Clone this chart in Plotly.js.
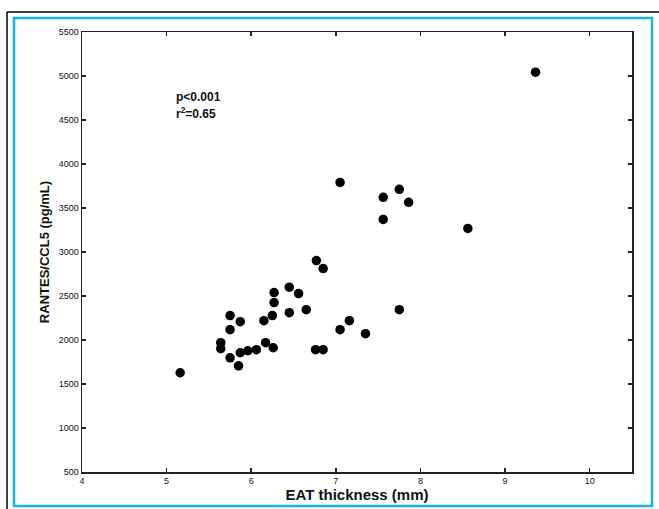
<!DOCTYPE html>
<html>
<head>
<meta charset="utf-8">
<script src="https://cdn.plot.ly/plotly-3.0.1.min.js"></script>
<style>
html,body{margin:0;padding:0;background:#fff;}
#chart{width:659px;height:509px;}
</style>
</head>
<body>
<div id="chart"></div>
<script>
// EAT thickness (mm)
const eatThickness = [
  5.16, 9.36, 8.56, 7.05, 7.56, 7.75, 7.86, 7.56, 7.75, 7.35,
  7.16, 7.05, 6.77, 6.85, 6.76, 6.85, 6.65, 6.45, 6.56, 6.45,
  6.27, 6.27, 6.25, 6.15, 5.75, 5.87, 5.75, 5.64, 5.64, 5.75,
  5.85, 5.87, 5.96, 6.06, 6.17, 6.26
];
// RANTES/CCL5 (pg/mL)
const rantes = [
  1628, 5044, 3268, 3791, 3621, 3712, 3564, 3370, 2345, 2072,
  2220, 2117, 2903, 2812, 1890, 1890, 2345, 2600, 2527, 2311,
  2539, 2425, 2277, 2220, 2277, 2208, 2117, 1969, 1901, 1798,
  1707, 1855, 1878, 1890, 1969, 1912
];
const xTicks = [4, 5, 6, 7, 8, 9, 10];
const yTicks = [500, 1000, 1500, 2000, 2500, 3000, 3500, 4000, 4500, 5000, 5500];
const statLines = ["p<0.001", "r<sup>2</sup>=0.65"];

// pixel helpers for frame shapes (paper coords)
const L = 82, T = 32, W = 550, H = 440;
const px = v => (v - L) / W;
const py = v => (T + H - v) / H;

const FONT = 'Liberation Sans, Arial, sans-serif';

const trace = {
  x: eatThickness, y: rantes, type: 'scatter', mode: 'markers',
  marker: {color: '#000', size: 9.5, symbol: 'circle'},
  hoverinfo: 'x+y'
};

const axisCommon = {
  showgrid: false, zeroline: false, showline: true, linecolor: '#222', linewidth: 1.5,
  mirror: 'ticks', ticks: 'inside', ticklen: 4, tickwidth: 1.5, tickcolor: '#222',
  tickfont: {family: FONT, size: 9, color: '#111'}
};

const layout = {
  width: 659, height: 509,
  margin: {l: L, r: 659 - L - W, t: T, b: 509 - T - H},
  paper_bgcolor: '#fff', plot_bgcolor: '#fff',
  showlegend: false,
  xaxis: Object.assign({}, axisCommon, {
    range: [4, 10.5], tickvals: xTicks, ticktext: xTicks.map(String),
    title: {text: '<b>EAT thickness (mm)</b>', standoff: 2,
      font: {family: FONT, size: 15, color: '#111'}}
  }),
  yaxis: Object.assign({}, axisCommon, {
    range: [500, 5500], tickvals: yTicks, ticktext: yTicks.map(String),
    title: {text: '<b>RANTES/CCL5 (pg/mL)</b>', standoff: 6,
      font: {family: FONT, size: 13, color: '#111'}}
  }),
  annotations: statLines.map((t, i) => ({
    x: px(174), y: py(97 + i * 16), xref: 'paper', yref: 'paper',
    xanchor: 'left', yanchor: 'middle', showarrow: false,
    text: '<b>' + t + '</b>',
    font: {family: FONT, size: 12, color: '#111'}
  })),
  shapes: [
    {type: 'line', xref: 'paper', yref: 'paper', x0: px(7), x1: px(7), y0: py(12), y1: py(509), line: {color: '#000', width: 1.5}},
    {type: 'line', xref: 'paper', yref: 'paper', x0: px(7), x1: px(659), y0: py(12), y1: py(12), line: {color: '#000', width: 1.5}},
    {type: 'rect', xref: 'paper', yref: 'paper', x0: px(14), x1: px(652), y0: py(18), y1: py(506), line: {color: '#1ab2e0', width: 2.5}, fillcolor: 'rgba(0,0,0,0)'}
  ]
};

Plotly.newPlot('chart', [trace], layout, {displayModeBar: false, staticPlot: true});
</script>
</body>
</html>
